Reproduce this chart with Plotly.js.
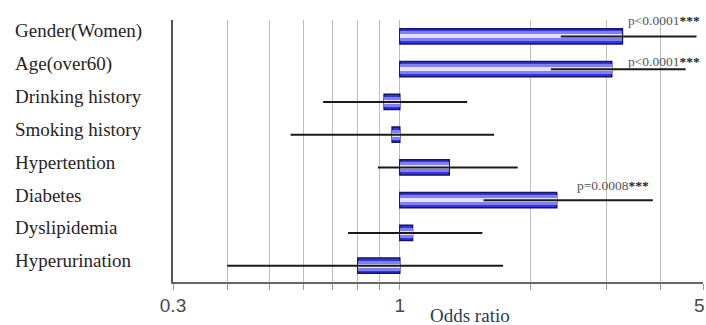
<!DOCTYPE html>
<html>
<head>
<meta charset="utf-8">
<script src="https://cdn.plot.ly/plotly-3.0.1.min.js"></script>
<style>html,body{margin:0;padding:0;background:#fff;}#chart{width:706px;height:325px;}</style>
</head>
<body>
<div id="chart"></div>
<script>
const categories = ['Gender(Women)','Age(over60)','Drinking history','Smoking history','Hypertention','Diabetes','Dyslipidemia','Hyperurination'];
const oddsRatio = [3.26, 3.08, 0.92, 0.96, 1.30, 2.30, 1.07, 0.80];
const ciLow  = [2.35, 2.23, 0.665, 0.56, 0.89, 1.56, 0.76, 0.40];
const ciHigh = [4.83, 4.56, 1.43, 1.65, 1.87, 3.83, 1.55, 1.73];
const pTexts = ['p<0.0001', 'p<0.0001', '', '', '', 'p=0.0008', '', ''];
const majorTicks = [0.3, 1];
const majorTickLabels = ['0.3', '1'];
const edgeTick = 5;
const edgeTickLabel = '5';
const minorTicks = [0.4, 0.5, 0.6, 0.7, 0.8, 0.9, 2, 3, 4, 5];
const refValue = 1;

const W = 706, H = 325;
const M = {l: 173, r: 3, t: 20, b: 43};
const PW = W - M.l - M.r, PH = H - M.t - M.b;
const px2paperX = px => (px - M.l) / PW;
const px2paperY = py => 1 - (py - M.t) / PH;

const sizes = oddsRatio.map(v => v - refValue);
function barLayer(width, color, line) {
  return {
    type: 'bar', orientation: 'h', y: categories, x: sizes,
    base: categories.map(() => refValue), width: width,
    marker: {color: color, line: line || {width: 0}},
    hoverinfo: 'skip', showlegend: false
  };
}
const traces = [
  barLayer(0.47, '#3535e8', {color: '#15155e', width: 1.5}),
  barLayer(0.30, '#8080f4'),
  barLayer(0.12, '#e2e2ff')
];
const ciX = [], ciY = [];
categories.forEach((c, i) => { ciX.push(ciLow[i], ciHigh[i], null); ciY.push(c, c, null); });
traces.push({type: 'scatter', mode: 'lines', x: ciX, y: ciY,
  line: {color: '#1a1a1a', width: 2}, hoverinfo: 'skip', showlegend: false});

const annotations = [];
categories.forEach(c => annotations.push({
  xref: 'paper', x: px2paperX(13), xanchor: 'left',
  yref: 'y', y: c, yanchor: 'middle', yshift: 5,
  text: c, showarrow: false,
  font: {family: 'Liberation Serif, Times New Roman, serif', size: 19, color: '#2a2222'}
}));
const pPos = [[626, 20], [626, 62], null, null, null, [575, 185], null, null];
pTexts.forEach((t, i) => {
  if (!t) return;
  annotations.push({
    xref: 'paper', x: px2paperX(pPos[i][0]), xanchor: 'left',
    yref: 'paper', y: px2paperY(pPos[i][1]), yanchor: 'middle',
    text: t + '<b style="color:#222">***</b>', showarrow: false,
    font: {family: 'Liberation Serif, Times New Roman, serif', size: 13.5, color: '#555'}
  });
});
// right-edge tick label, kept inside the page
annotations.push({
  xref: 'x', x: Math.log10(edgeTick), xanchor: 'right', xshift: 4,
  yref: 'paper', y: px2paperY(305), yanchor: 'middle',
  text: edgeTickLabel, showarrow: false,
  font: {family: 'Liberation Sans, Arial, sans-serif', size: 19, color: '#4a4a4a'}
});
annotations.push({
  xref: 'paper', x: px2paperX(470), xanchor: 'center',
  yref: 'paper', y: px2paperY(315), yanchor: 'middle',
  text: 'Odds ratio', showarrow: false,
  font: {family: 'Liberation Serif, Times New Roman, serif', size: 19, color: '#2c3b4a'}
});

const layout = {
  width: W, height: H, margin: M,
  paper_bgcolor: '#fff', plot_bgcolor: '#fff',
  barmode: 'overlay', bargap: 0,
  showlegend: false,
  xaxis: {
    type: 'log', range: [Math.log10(0.3), Math.log10(5)],
    tickmode: 'array', tickvals: majorTicks, ticktext: majorTickLabels,
    ticklabeloverflow: 'allow',
    showgrid: true, gridcolor: '#bdbdbd', gridwidth: 1,
    ticks: 'outside', ticklen: 6, tickcolor: '#999', tickwidth: 1,
    minor: {tickmode: 'array', tickvals: minorTicks, ticks: 'outside', ticklen: 6,
            tickcolor: '#999', tickwidth: 1, showgrid: true, gridcolor: '#bdbdbd', gridwidth: 1},
    showline: true, linecolor: '#666', linewidth: 1.5,
    tickfont: {family: 'Liberation Sans, Arial, sans-serif', size: 19, color: '#4a4a4a'},
    zeroline: false, fixedrange: true
  },
  yaxis: {
    type: 'category', categoryorder: 'array', categoryarray: categories,
    range: [categories.length - 0.5, -0.5],
    showticklabels: false, ticks: '', showgrid: false, zeroline: false,
    showline: true, linecolor: '#555', linewidth: 2, fixedrange: true
  },
  annotations: annotations
};
Plotly.newPlot('chart', traces, layout, {displayModeBar: false, staticPlot: true});
</script>
</body>
</html>
